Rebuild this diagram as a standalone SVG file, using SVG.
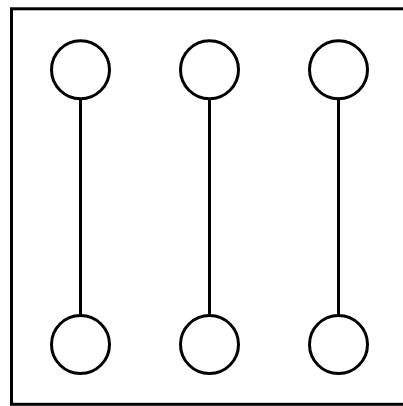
<svg xmlns="http://www.w3.org/2000/svg" width="403" height="406" viewBox="0 0 403 406">
<style>
.frame{fill:none;stroke:#000;stroke-width:3}
.node{fill:#fff;stroke:#000;stroke-width:3}
.edge{stroke:#000;stroke-width:3;fill:none}
</style>
<rect width="403" height="406" fill="#fff"/>
<rect class="frame" x="11.5" y="8.8" width="394" height="395.5"/>
<g id="connectors">
<line class="edge" x1="80.5" y1="99" x2="80.5" y2="315"/>
<line class="edge" x1="209.5" y1="99" x2="209.5" y2="315"/>
<line class="edge" x1="338.5" y1="99" x2="338.5" y2="315"/>
</g>
<g id="n1"><circle class="node" cx="80.5" cy="69.7" r="29"/></g>
<g id="n2"><circle class="node" cx="209.5" cy="69.7" r="29"/></g>
<g id="n3"><circle class="node" cx="338.5" cy="69.7" r="29"/></g>
<g id="n4"><circle class="node" cx="80.5" cy="344.5" r="29"/></g>
<g id="n5"><circle class="node" cx="209.5" cy="344.5" r="29"/></g>
<g id="n6"><circle class="node" cx="338.5" cy="344.5" r="29"/></g>
</svg>
